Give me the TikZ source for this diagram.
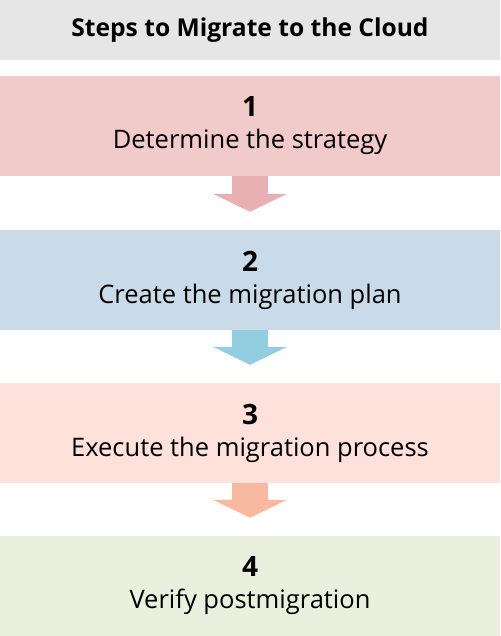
\documentclass[tikz,border=0pt]{standalone}
\usepackage{fontspec}
\setmainfont{Open Sans}
\usepackage{tikz}
\usetikzlibrary{arrows.meta}

\definecolor{titlegray}{HTML}{E6E6E6}
\definecolor{stepone}{HTML}{F0CBC9}
\definecolor{arrowone}{HTML}{E8B0B3}
\definecolor{steptwo}{HTML}{C9DBE8}
\definecolor{arrowtwo}{HTML}{92CDE0}
\definecolor{stepthree}{HTML}{FDE1DA}
\definecolor{arrowthree}{HTML}{F8B9A0}
\definecolor{stepfour}{HTML}{EBEFDD}

\begin{document}
\begin{tikzpicture}[x=1pt,y=-1pt,every node/.style={inner sep=0pt,minimum width=500pt,align=center},stepbox/.style={fill=#1,minimum height=100pt,font=\fontsize{25.5}{32}\selectfont},flow/.style={draw=#1,line width=36pt,shorten >=18pt,-{Triangle[width=74pt,length=18pt,line width=0pt]}}]
    \useasboundingbox (0,0) rectangle (500,636);
    \node[fill=titlegray,minimum height=60pt,font=\fontsize{24.6}{28}\selectfont\bfseries] (title) at (250,30) {Steps to Migrate to the Cloud};
    \node[stepbox=stepone] (s1) at (250,126) {{\fontsize{28}{32}\selectfont\bfseries 1}\\Determine the strategy};
    \node[stepbox=steptwo] (s2) at (250,280) {{\fontsize{28}{32}\selectfont\bfseries 2}\\Create the migration plan};
    \node[stepbox=stepthree] (s3) at (250,433) {{\fontsize{28}{32}\selectfont\bfseries 3}\\Execute the migration process};
    \node[stepbox=stepfour] (s4) at (250,586) {{\fontsize{28}{32}\selectfont\bfseries 4}\\Verify postmigration};
    \draw (s1) edge[flow=arrowone]  (s2) ;
    \draw (s2) edge[flow=arrowtwo]  (s3) ;
    \draw (s3) edge[flow=arrowthree]  (s4) ;
\end{tikzpicture}
\end{document}
